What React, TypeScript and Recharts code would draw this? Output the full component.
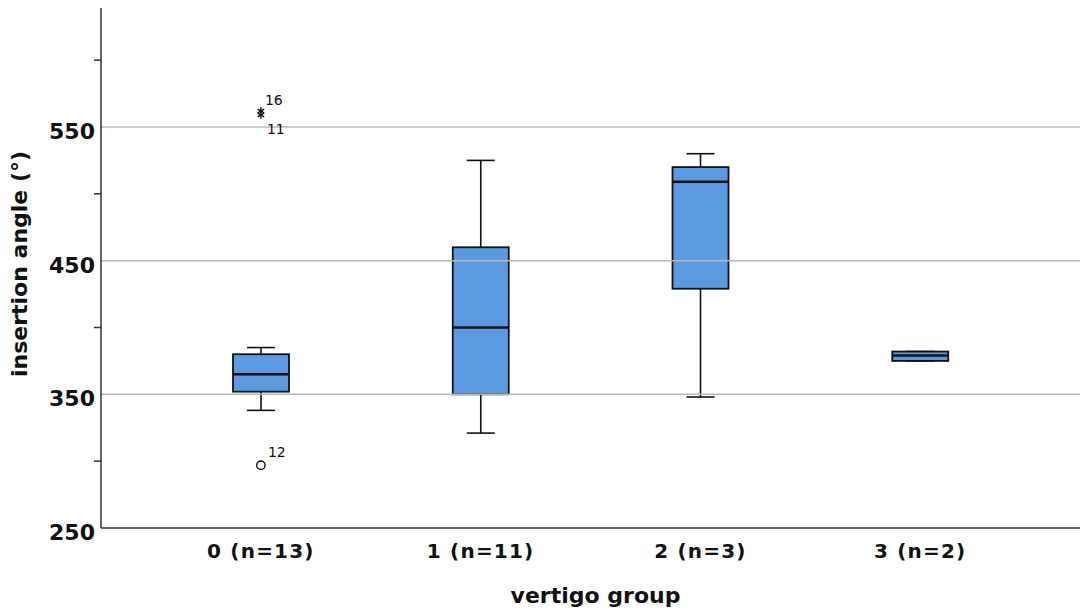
import React from 'react';
import { ComposedChart, Bar, Line, XAxis, YAxis, ReferenceLine, Label } from 'recharts';

const categories = ['0 (n=13)', '1 (n=11)', '2 (n=3)', '3 (n=2)'];
const whiskerLow = [338, 321, 348, 375];
const q1 = [352, 350, 429, 375];
const median = [365, 400, 509, 379];
const q3 = [380, 460, 520, 382];
const whiskerHigh = [385, 525, 530, 382];
// extreme values (asterisks) and outliers (circles) per category
const extremeA: (number | null)[] = [562, null, null, null];
const extremeALabel = ['16', '', '', ''];
const extremeB: (number | null)[] = [559, null, null, null];
const extremeBLabel = ['11', '', '', ''];
const outlier: (number | null)[] = [297, null, null, null];
const outlierLabel = ['12', '', '', ''];

const yTicks = [250, 300, 350, 400, 450, 500, 550, 600];
const yLabeledTicks = [250, 350, 450, 550];
const gridValues = [350, 450, 550];
const yDomain = [250, 639];

const data = categories.map((name, i) => ({
  name,
  low: whiskerLow[i],
  q1: q1[i],
  median: median[i],
  q3: q3[i],
  high: whiskerHigh[i],
  extA: extremeA[i],
  extB: extremeB[i],
  out: outlier[i],
}));

const FONT = '"DejaVu Sans", Verdana, sans-serif';
const BOX_FILL = '#5B9AE1';

const BoxShape = (props: any) => {
  const { x, y, width, height, payload } = props;
  if (x == null || y == null) return <g />;
  const top = Math.min(y, y + height);
  const bottom = Math.max(y, y + height);
  const lo = payload.low;
  const hi = payload.high;
  const toY = (v: number) => (hi === lo ? top : top + ((hi - v) / (hi - lo)) * (bottom - top));
  const cx = x + width / 2;
  const capHalf = width / 4;
  const yQ1 = toY(payload.q1);
  const yQ3 = toY(payload.q3);
  const yMed = toY(payload.median);
  return (
    <g>
      <line x1={cx} x2={cx} y1={top} y2={yQ3} stroke="#111" strokeWidth={1.6} />
      <line x1={cx} x2={cx} y1={yQ1} y2={bottom} stroke="#111" strokeWidth={1.6} />
      <line x1={cx - capHalf} x2={cx + capHalf} y1={top} y2={top} stroke="#111" strokeWidth={1.6} />
      <line x1={cx - capHalf} x2={cx + capHalf} y1={bottom} y2={bottom} stroke="#111" strokeWidth={1.6} />
      <rect x={x} y={yQ3} width={width} height={Math.max(yQ1 - yQ3, 0.5)} fill={BOX_FILL} stroke="#111" strokeWidth={1.8} />
      <line x1={x} x2={x + width} y1={yMed} y2={yMed} stroke="#111" strokeWidth={2.6} />
    </g>
  );
};

const makeAsterisk = (labels: string[], pos: 'above' | 'below') => (p: any) => {
  const { cx, cy, index } = p;
  if (typeof cx !== 'number' || typeof cy !== 'number' || isNaN(cy)) return <g key={`ast-${pos}-${index}`} />;
  const r = 3.8;
  const arms = [90, 30, 150].map((deg) => {
    const a = (deg * Math.PI) / 180;
    return (
      <line
        key={deg}
        x1={cx - r * Math.cos(a)}
        y1={cy - r * Math.sin(a)}
        x2={cx + r * Math.cos(a)}
        y2={cy + r * Math.sin(a)}
        stroke="#111"
        strokeWidth={1.4}
      />
    );
  });
  return (
    <g key={`ast-${pos}-${index}`}>
      {arms}
      <text
        x={cx + (pos === 'above' ? 4 : 6)}
        y={pos === 'above' ? cy - 6 : cy + 19}
        fontSize={14}
        fontFamily={FONT}
        fill="#111"
      >
        {labels[index]}
      </text>
    </g>
  );
};

const circleDot = (p: any) => {
  const { cx, cy, index } = p;
  if (typeof cx !== 'number' || typeof cy !== 'number' || isNaN(cy)) return <g key={`out-${index}`} />;
  return (
    <g key={`out-${index}`}>
      <circle cx={cx} cy={cy} r={4.2} fill="#fff" stroke="#111" strokeWidth={1.4} />
      <text x={cx + 7} y={cy - 8} fontSize={14} fontFamily={FONT} fill="#111">
        {outlierLabel[index]}
      </text>
    </g>
  );
};

const YTick = (props: any) => {
  const { x, y, payload } = props;
  const v = payload.value;
  if (yLabeledTicks.includes(v)) {
    return (
      <text x={x + 2} y={y + 12} textAnchor="end" fontSize={22} fontWeight="bold" fontFamily={FONT} fill="#111">
        {v}
      </text>
    );
  }
  return <line x1={x + 1} x2={x + 8} y1={y} y2={y} stroke="#333" strokeWidth={1.5} />;
};

export default function App() {
  return (
    <div style={{ position: 'absolute', left: 0, top: 0, width: 1084, height: 614, background: '#fff' }}>
      <ComposedChart width={1084} height={614} data={data} margin={{ top: 8, right: 4, bottom: 0, left: 0 }}>
        {gridValues.map((v) => (
          <ReferenceLine key={v} y={v} stroke="#b8b8b8" strokeWidth={1.5} />
        ))}
        <XAxis
          dataKey="name"
          type="category"
          padding={{ left: 50, right: 50 }}
          height={86}
          tickLine={false}
          tickMargin={10}
          axisLine={{ stroke: '#333', strokeWidth: 1.5 }}
          tick={{ fontSize: 20, fontWeight: 'bold', fill: '#111', fontFamily: FONT, letterSpacing: 1.2 }}
        >
          <Label
            content={(lp: any) => {
              const vb = lp.viewBox || { x: 101, y: 528, width: 979 };
              return (
                <text
                  x={vb.x + vb.width / 2 + 5}
                  y={603}
                  textAnchor="middle"
                  fontSize={22}
                  fontWeight="bold"
                  fontFamily={FONT}
                  fill="#111"
                >
                  vertigo group
                </text>
              );
            }}
          />
        </XAxis>
        <YAxis
          type="number"
          domain={yDomain}
          ticks={yTicks}
          interval={0}
          allowDataOverflow
          width={101}
          tickLine={false}
          axisLine={{ stroke: '#333', strokeWidth: 1.5 }}
          tick={<YTick />}
        >
          <Label
            content={() => (
              <text
                x={27}
                y={264}
                transform="rotate(-90, 27, 264)"
                textAnchor="middle"
                fontSize={22}
                fontWeight="bold"
                fontFamily={FONT}
                fill="#111"
              >
                insertion angle (°)
              </text>
            )}
          />
        </YAxis>
        <Bar
          dataKey={(d: any) => [d.low, d.high]}
          barSize={56}
          shape={<BoxShape />}
          isAnimationActive={false}
        />
        <Line dataKey="extA" stroke="none" isAnimationActive={false} dot={makeAsterisk(extremeALabel, 'above')} activeDot={false} legendType="none" />
        <Line dataKey="extB" stroke="none" isAnimationActive={false} dot={makeAsterisk(extremeBLabel, 'below')} activeDot={false} legendType="none" />
        <Line dataKey="out" stroke="none" isAnimationActive={false} dot={circleDot} activeDot={false} legendType="none" />
      </ComposedChart>
    </div>
  );
}
